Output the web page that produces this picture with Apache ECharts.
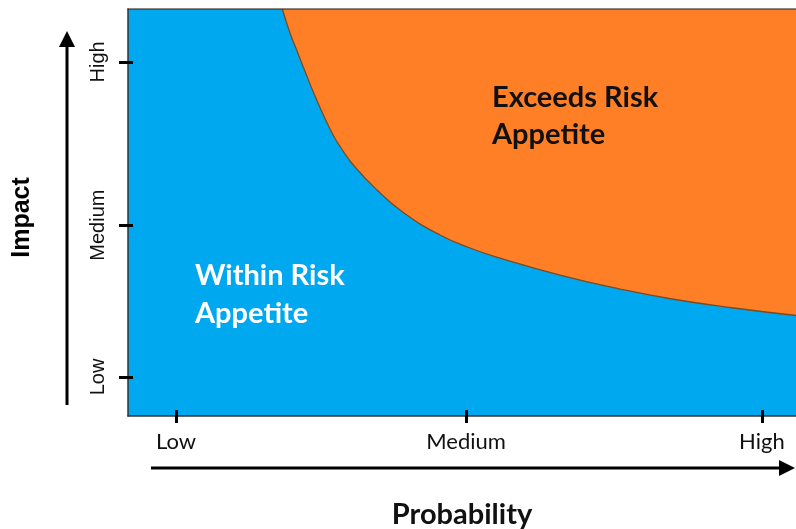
<!DOCTYPE html>
<html>
<head>
<meta charset="utf-8">
<script src="https://cdn.jsdelivr.net/npm/echarts@6/dist/echarts.min.js"></script>
<style>
  html, body { margin: 0; padding: 0; background: #fff; }
  #chart { width: 796px; height: 529px; }
</style>
</head>
<body>
<div id="chart"></div>
<script>
// Axis levels and where each level sits on a 0-100 scale
const probabilityLevels = ['Low', 'Medium', 'High'];
const probabilityTicks = [7.2, 50.6, 94.9];
const impactLevels = ['Low', 'Medium', 'High'];
const impactTicks = [9.6, 46.9, 87.0];

// Risk appetite boundary (probability, impact) on the same 0-100 scale;
// left of the first point the whole impact range is within appetite
const boundaryProbability = [23.1, 24.25, 25.25, 26.24, 28.25, 30.54, 31.89, 33.98, 37.28, 41.32, 46.71, 51.2, 55.69, 64.67, 73.65, 81.44, 90.72, 100];
const boundaryImpact      = [100, 94.1, 89.93, 85.75, 77.64, 69.53, 65.85, 61.18, 55.53, 49.88, 44.47, 41.28, 38.82, 34.64, 31.2, 28.75, 26.54, 24.69];

const regionLabels = ['Exceeds Risk\nAppetite', 'Within Risk\nAppetite'];

const BLUE = '#00A8F0';
const ORANGE = '#FF7F27';

const zip = (xs, ys) => xs.map((x, i) => [x, ys[i]]);

function levelName(ticks, names) {
  return v => {
    let best = 0;
    ticks.forEach((t, i) => { if (Math.abs(t - v) < Math.abs(ticks[best] - v)) best = i; });
    return names[best];
  };
}

const tickStyle = { color: '#000', width: 3 };
const frameStyle = { color: '#333', width: 1.5 };

const chart = echarts.init(document.getElementById('chart'), null, { renderer: 'canvas' });

chart.setOption({
  animation: false,
  backgroundColor: '#fff',
  grid: {
    left: 128, right: 0, top: 9, bottom: 113,
    outerBoundsMode: 'none', containLabel: false,
    // the plot itself is the "within appetite" zone
    show: true, backgroundColor: BLUE, borderWidth: 0
  },
  xAxis: [
    {
      type: 'value', min: 0, max: 100, position: 'bottom', z: 5,
      splitLine: { show: false },
      axisLine: { show: true, lineStyle: frameStyle },
      axisTick: { show: true, inside: false, length: 7, customValues: probabilityTicks, lineStyle: tickStyle },
      axisLabel: {
        customValues: probabilityTicks,
        formatter: levelName(probabilityTicks, probabilityLevels),
        fontFamily: 'Lato', fontSize: 22, color: '#111', margin: 15
      },
      name: 'Probability', nameLocation: 'middle', nameGap: 84,
      nameTextStyle: { fontFamily: 'Lato', fontWeight: 'bold', fontSize: 29, color: '#111' }
    },
    {
      type: 'value', min: 0, max: 100, position: 'bottom', z: 5,
      splitLine: { show: false },
      axisLine: { show: false },
      axisTick: { show: true, inside: true, length: 6, customValues: probabilityTicks, lineStyle: tickStyle },
      axisLabel: { show: false }
    },
    {
      type: 'value', min: 0, max: 100, position: 'top', z: 5,
      splitLine: { show: false },
      axisLine: { show: true, lineStyle: { color: 'rgba(60,40,30,0.75)', width: 1.5 } },
      axisTick: { show: false },
      axisLabel: { show: false }
    }
  ],
  yAxis: [
    {
      type: 'value', min: 0, max: 100, position: 'left', z: 5,
      splitLine: { show: false },
      axisLine: { show: true, lineStyle: frameStyle },
      axisTick: { show: true, inside: false, length: 9, customValues: impactTicks, lineStyle: tickStyle },
      axisLabel: {
        customValues: impactTicks,
        formatter: levelName(impactTicks, impactLevels),
        rotate: 90, fontFamily: 'Liberation Sans', fontSize: 20, color: '#111', margin: 20
      },
      name: 'Impact', nameLocation: 'middle', nameRotate: 90, nameGap: 93,
      nameTextStyle: { fontFamily: 'Liberation Sans', fontWeight: 'bold', fontSize: 25, color: '#000', padding: [0, 10, 0, 0] }
    },
    {
      type: 'value', min: 0, max: 100, position: 'left', z: 5,
      splitLine: { show: false },
      axisLine: { show: false },
      axisTick: { show: true, inside: true, length: 5, customValues: impactTicks, lineStyle: tickStyle },
      axisLabel: { show: false }
    }
  ],
  series: [
    {
      name: 'Appetite boundary',
      type: 'line',
      data: zip(boundaryProbability, boundaryImpact),
      showSymbol: false,
      smooth: 0.5,
      lineStyle: { color: '#7a4a22', width: 1.3 },
      // everything above the boundary exceeds appetite
      areaStyle: { color: ORANGE, opacity: 1, origin: 'end' },
      z: 2
    }
  ],
  graphic: [
    // vertical Impact arrow
    { type: 'line', shape: { x1: 67, y1: 405, x2: 67, y2: 44 }, style: { stroke: '#000', lineWidth: 3 } },
    { type: 'polygon', shape: { points: [[67, 31], [59, 47], [75, 47]] }, style: { fill: '#000' } },
    // horizontal Probability arrow
    { type: 'line', shape: { x1: 151, y1: 468, x2: 781, y2: 468 }, style: { stroke: '#000', lineWidth: 3 } },
    { type: 'polygon', shape: { points: [[795, 468], [779, 460], [779, 476]] }, style: { fill: '#000' } },
    // region captions
    {
      type: 'text', left: 492, top: 79, z: 10,
      style: { text: regionLabels[0], fill: '#111', font: 'bold 29px Lato', lineHeight: 37 }
    },
    {
      type: 'text', left: 195, top: 257, z: 10,
      style: { text: regionLabels[1], fill: '#fff', font: 'bold 29px Lato', lineHeight: 38 }
    }
  ]
});
</script>
</body>
</html>
